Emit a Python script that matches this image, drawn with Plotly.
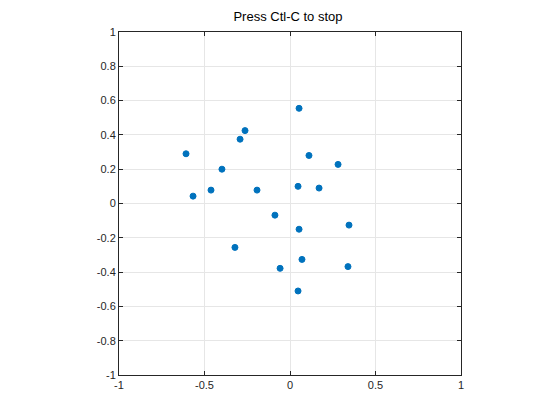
import plotly.graph_objects as go

x = [0.053, -0.263, -0.292, -0.608, -0.398, 0.111, 0.281, -0.462, -0.567, -0.193,
     0.047, 0.170, -0.088, 0.345, 0.053, -0.322, 0.070, -0.058, 0.339, 0.047]
y = [0.555, 0.425, 0.375, 0.29, 0.20, 0.28, 0.228, 0.078, 0.043, 0.078,
     0.10, 0.09, -0.068, -0.126, -0.15, -0.256, -0.326, -0.378, -0.368, -0.51]
xticks = [-1, -0.5, 0, 0.5, 1]
yticks = [-1, -0.8, -0.6, -0.4, -0.2, 0, 0.2, 0.4, 0.6, 0.8, 1]

fig = go.Figure()
fig.add_trace(go.Scatter(x=x, y=y, mode="markers",
                         marker=dict(color="#0072BD", size=6,
                                     line=dict(color="#0072BD", width=1))))

ax = dict(showline=True, mirror="ticks", linecolor="#262626", linewidth=1,
          ticks="inside", ticklen=4, tickcolor="#262626",
          showgrid=True, gridcolor="#e6e6e6", zeroline=False,
          tickfont=dict(size=11, color="#262626"))
fig.update_xaxes(range=[-1, 1], tickvals=xticks,
                 ticktext=[f"{v:g}" for v in xticks], **ax)
fig.update_yaxes(range=[-1, 1], tickvals=yticks,
                 ticktext=[f"{v:g}" for v in yticks], **ax)
fig.update_layout(
    width=560, height=420,
    margin=dict(l=111, r=107, t=24, b=53, autoexpand=False),
    plot_bgcolor="white", paper_bgcolor="white",
    showlegend=False,
    font=dict(family="Liberation Sans, Arial, sans-serif"),
    title=dict(text="Press Ctl-C to stop", x=0.5, xanchor="center",
               y=1 - 4 / 420, yanchor="top",
               font=dict(size=13, color="black")),
)
fig.write_html("out.html")
